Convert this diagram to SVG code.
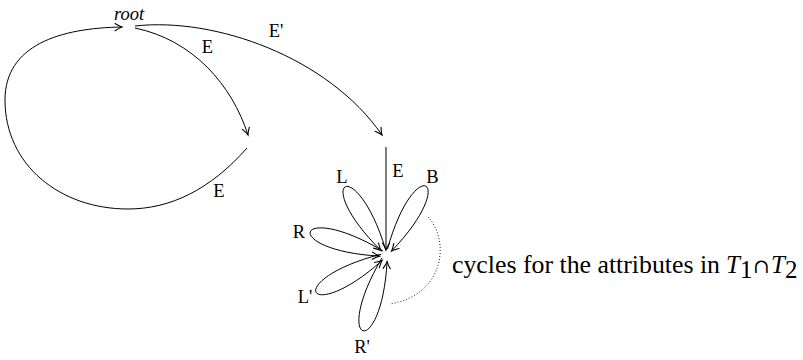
<svg xmlns="http://www.w3.org/2000/svg" width="803" height="360" viewBox="0 0 803 360">
<style>
.edge{fill:none;stroke:#000;stroke-width:1;marker-end:url(#arr)}
.dot{fill:none;stroke:#222;stroke-width:1;stroke-dasharray:1 2}
.lbl{font-family:"Liberation Serif","DejaVu Serif",serif;font-size:18.5px;fill:#000;text-anchor:middle}
.it{font-style:italic}
.cap{font-family:"Liberation Serif","DejaVu Serif",serif;font-size:25px;fill:#000}
</style>
<defs>
<marker id="arr" viewBox="-8 -5 10 10" refX="0" refY="0" markerWidth="10" markerHeight="10" markerUnits="userSpaceOnUse" orient="auto">
<path d="M-7,-3.6 Q-2.5,-0.8 0,0 Q-2.5,0.8 -7,3.6" fill="none" stroke="#000" stroke-width="1.1" stroke-linecap="round"/>
</marker>
</defs>
<rect width="803" height="360" fill="#fff"/>
<g id="connectors">
<path id="e-loop" class="edge" d="M247,148 C210,190 170,209 128,209 C60,209 5,165 5,100 C5,45 60,28 122,27"/>
<path id="e-root-a" class="edge" d="M135,28 C193,40 232,85 248,135"/>
<path id="e-root-b" class="edge" d="M135,26 C215,17 328,57 382,135"/>
<path id="e-vert" class="edge" d="M386,147 L386,250"/>
<path id="loop-L" class="edge" d="M385.5,249 C355.6,152 309.3,179.8 381,250.5"/>
<path id="loop-B" class="edge" d="M387.5,249 C414.6,151.4 461.4,178.4 391.6,251"/>
<path id="loop-R" class="edge" d="M383.1,251 C294.5,198.8 278.7,250.4 379.4,256.1"/>
<path id="loop-L2" class="edge" d="M381.1,254.2 C281.5,279.9 306.8,327.6 382.1,260.5"/>
<path id="loop-R2" class="edge" d="M382,257.9 C329.8,346.5 381.4,362.3 387.1,261.6"/>
<path id="cycles-arc" class="dot" d="M428,217 C450,240 445,295 390,304"/>
</g>
<g id="root"><text class="lbl it" x="129" y="20">root</text></g>
<g id="edge-labels">
<text class="lbl" x="207.5" y="53">E</text>
<text class="lbl" x="276" y="37">E'</text>
<text class="lbl" x="219" y="197">E</text>
<text class="lbl" x="398" y="177">E</text>
<text class="lbl" x="342" y="183">L</text>
<text class="lbl" x="432.5" y="183">B</text>
<text class="lbl" x="299" y="238">R</text>
<text class="lbl" x="305" y="303">L'</text>
<text class="lbl" x="362" y="353">R'</text>
</g>
<g id="caption">
<text class="cap" x="452" y="273" textLength="268" lengthAdjust="spacingAndGlyphs">cycles for the attributes in</text>
<text class="cap it" x="726" y="273">T</text>
<text class="cap" x="740" y="278" font-size="17">1</text>
<text x="753" y="273" font-family="'DejaVu Serif','Liberation Serif',serif" font-size="20" fill="#000">∩</text>
<text class="cap it" x="771" y="273">T</text>
<text class="cap" x="785" y="278" font-size="17">2</text>
</g>
</svg>
